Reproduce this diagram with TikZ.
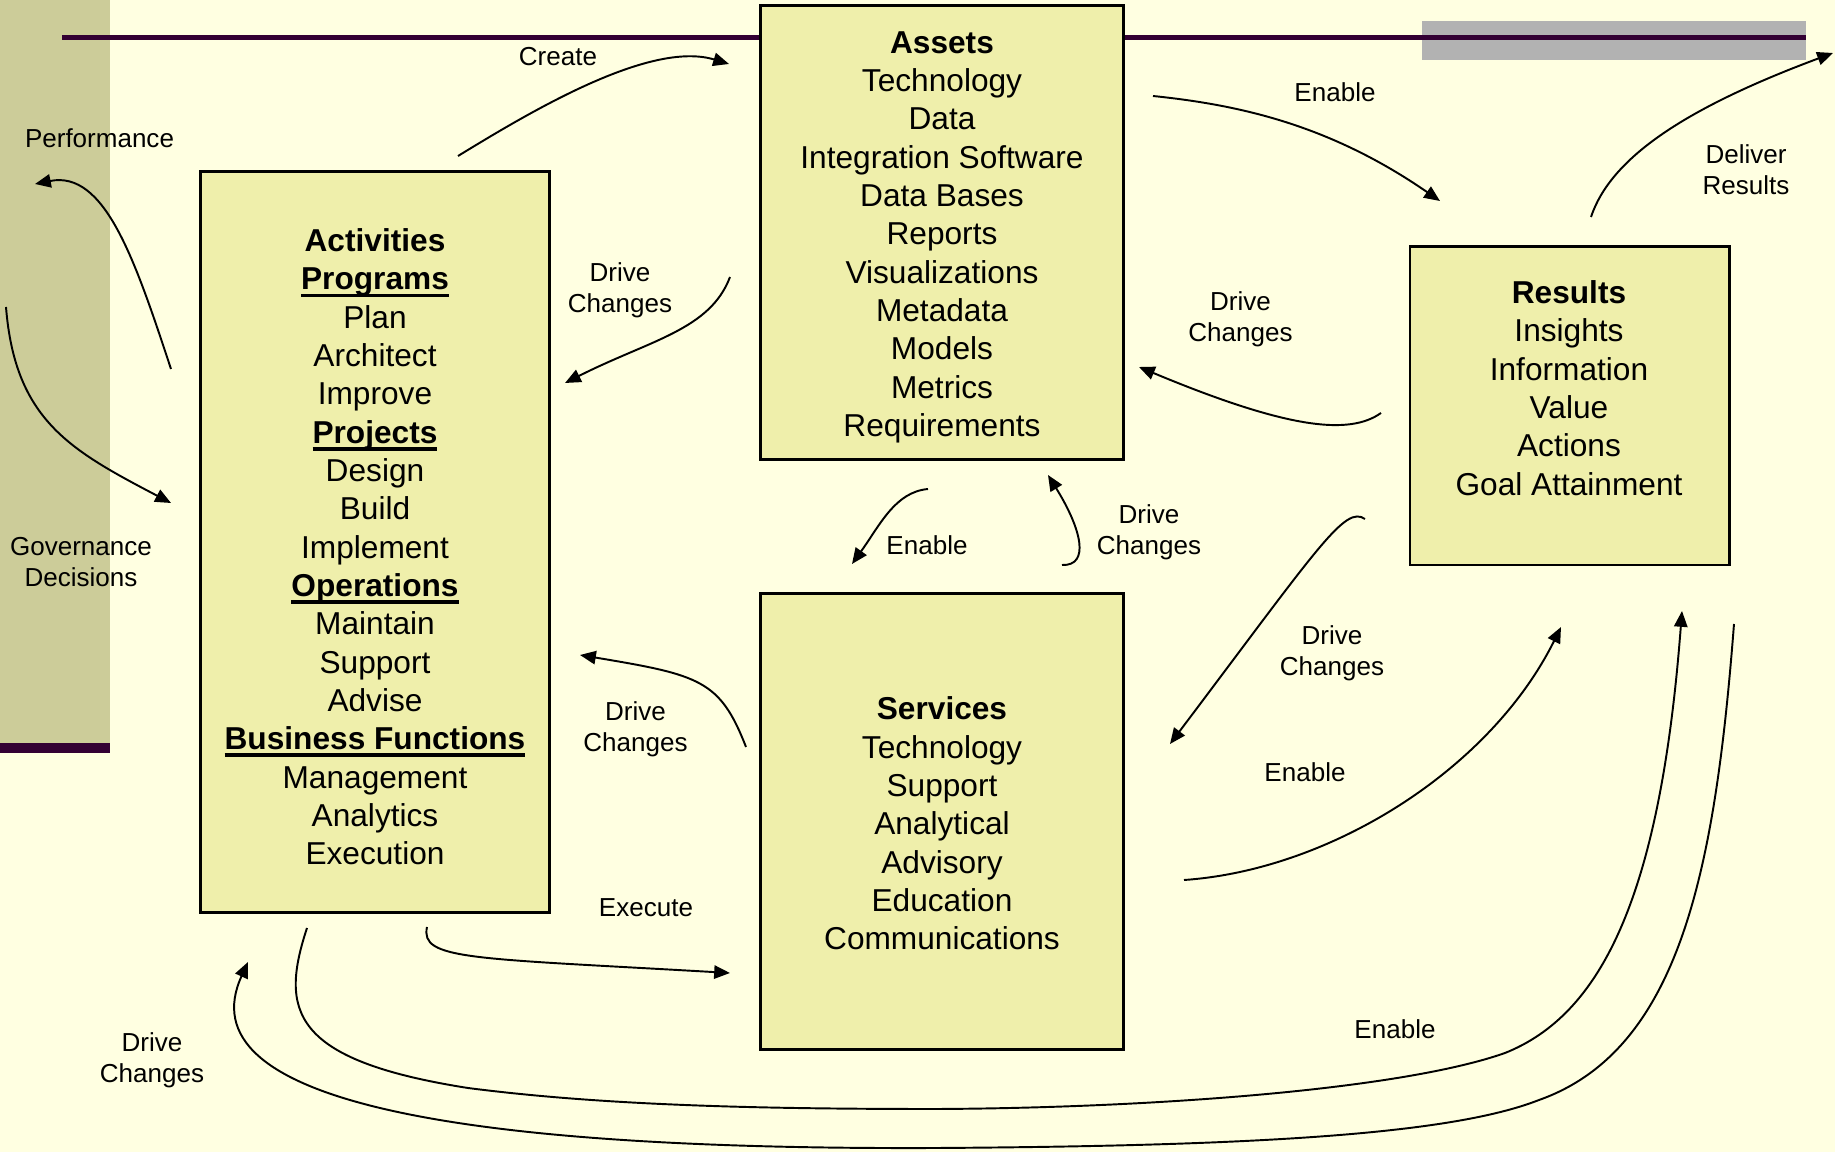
\documentclass[tikz,border=0pt]{standalone}
\usepackage{fontspec}
\setmainfont{Liberation Sans}
\usetikzlibrary{arrows.meta,positioning}
\definecolor{paper}{HTML}{FFFFE1}
\definecolor{band}{HTML}{CCCC99}
\definecolor{plum}{HTML}{330033}
\definecolor{bar}{HTML}{B2B2B2}
\definecolor{boxfill}{HTML}{EFEFAB}
% bold heading with a heavy underline
\newcommand{\headul}[1]{\setbox0\hbox{\textbf{#1}}\rlap{\rule[-2.1pt]{\wd0}{1.1pt}}\box0}

\begin{document}
\begin{tikzpicture}[x=0.01cm, y=-0.01cm]
    \tikzstyle{block}     = [rectangle, draw = black, line width = 0.8pt, fill = boxfill, inner sep = 0pt]
    \tikzstyle{blocktext} = [align = center, inner sep = 0pt, font = \fontsize{9}{10.9}\selectfont]
    \tikzstyle{tag}       = [align = center, inner sep = 0pt, font = \fontsize{7.4}{8.8}\selectfont]
    \tikzstyle{arrow}     = [line width = 0.55pt, -{Triangle[length = 4.5pt, width = 3.8pt]}]

    % page and frame
    \useasboundingbox (0,0) rectangle (1835,1152);
    \fill[paper] (0,0) rectangle (1835,1152);
    \fill[band] (0,0) rectangle (110,743);
    \fill[plum] (0,743) rectangle (110,753);
    \fill[bar] (1422,21) rectangle (1806,60);
    \draw[plum, line width = 1.4pt] (62,37.5) -- (1806,37.5);

    % the four boxes
    \node[block, minimum width = 3.62cm, minimum height = 4.53cm] (assets) at (942,232.5) {};
    \node[blocktext] (assetsText) at (942,237.2)
        {\textbf{Assets}\\Technology\\Data\\Integration Software\\Data Bases\\Reports\\Visualizations\\Metadata\\Models\\Metrics\\Requirements};
    \node[block, minimum width = 3.48cm, minimum height = 7.40cm] (activities) at (375,542) {};
    \node[blocktext] (activitiesText) at (375,547)
        {\textbf{Activities}\\\headul{Programs}\\Plan\\Architect\\Improve\\\headul{Projects}\\Design\\Build\\Implement\\\headul{Operations}\\Maintain\\Support\\Advise\\\headul{Business Functions}\\Management\\Analytics\\Execution};
    \node[block, minimum width = 3.19cm, minimum height = 3.18cm] (results) at (1569.5,406) {};
    \node[blocktext] (resultsText) at (1569,388)
        {\textbf{Results}\\Insights\\Information\\Value\\Actions\\Goal Attainment};
    \node[block, minimum width = 3.62cm, minimum height = 4.55cm] (services) at (942,821.5) {};
    \node[blocktext] (servicesText) at (942,823.5)
        {\textbf{Services}\\Technology\\Support\\Analytical\\Advisory\\Education\\Communications};

    % labels
    \node[tag] (create)   at (558,57)      {Create};
    \node[tag] (perf)     at (99.5,138)    {Performance};
    \node[tag] (gov)      at (81,562)      {Governance\\Decisions};
    \node[tag] (driveA)   at (620,290)     {Drive\\Changes};
    \node[tag] (enableA)  at (1335,92.5)   {Enable};
    \node[tag] (deliver)  at (1746,170)    {Deliver\\Results};
    \node[tag] (driveB)   at (1240.5,319.5){Drive\\Changes};
    \node[tag] (enableB)  at (927,545)     {Enable};
    \node[tag] (driveC)   at (1149,532.5)  {Drive\\Changes};
    \node[tag] (driveD)   at (1332,653)    {Drive\\Changes};
    \node[tag] (driveE)   at (635.5,729)   {Drive\\Changes};
    \node[tag] (enableC)  at (1305,772)    {Enable};
    \node[tag] (execute)  at (646,908)     {Execute};
    \node[tag] (enableD)  at (1395,1029)   {Enable};
    \node[tag] (driveF)   at (152,1060)    {Drive\\Changes};

    % arrow ends
    \coordinate (createS)  at (458,156);   \coordinate (createE)  at (729,64);
    \coordinate (perfS)    at (171,369);   \coordinate (perfE)    at (35,184);
    \coordinate (govS)     at (6,307);     \coordinate (govE)     at (171,503);
    \coordinate (driveAS)  at (730,277);   \coordinate (driveAE)  at (565,383);
    \coordinate (enableAS) at (1153,96);   \coordinate (enableAE) at (1440,201);
    \coordinate (deliverS) at (1591,217);  \coordinate (deliverE) at (1833,53);
    \coordinate (driveBS)  at (1381,413);  \coordinate (driveBE)  at (1139,367);
    \coordinate (enableBS) at (928,489);   \coordinate (enableBE) at (852,564);
    \coordinate (driveCS)  at (1062,565);  \coordinate (driveCE)  at (1048,475);
    \coordinate (driveDS)  at (1365,519);  \coordinate (driveDE)  at (1170,744);
    \coordinate (driveES)  at (746,747);   \coordinate (driveEE)  at (580,655);
    \coordinate (enableCS) at (1184,880);  \coordinate (enableCE) at (1561,627);
    \coordinate (executeS) at (427,927);   \coordinate (executeE) at (730,973);
    \coordinate (enableDS) at (307,928);   \coordinate (enableDE) at (1682,611);
    \coordinate (driveFS)  at (1734,624);  \coordinate (driveFE)  at (248,962);

    \draw[arrow] (createS)  .. controls (530,112) and (650,40) .. (createE);
    \draw[arrow] (perfS)    .. controls (135,260) and (105,170) .. (perfE);
    \draw[arrow] (govS)     .. controls (15,420) and (70,450) .. (govE);
    \draw[arrow] (driveAS)  .. controls (710,330) and (650,340) .. (driveAE);
    \draw[arrow] (enableAS) .. controls (1240,105) and (1330,125) .. (enableAE);
    \draw[arrow] (deliverS) .. controls (1610,160) and (1680,110) .. (deliverE);
    \draw[arrow] (driveBS)  .. controls (1350,435) and (1290,430) .. (driveBE);
    \draw[arrow] (enableBS) .. controls (895,492) and (880,525) .. (enableBE);
    \draw[arrow] (driveCS)  .. controls (1090,566) and (1082,530) .. (driveCE);
    \draw[arrow] (driveDS)  .. controls (1345,505) and (1320,545) .. (driveDE);
    \draw[arrow] (driveES)  .. controls (720,680) and (700,675) .. (driveEE);
    \draw[arrow] (enableCS) .. controls (1330,870) and (1490,770) .. (enableCE);
    \draw[arrow] (executeS) .. controls (420,960) and (470,958) .. (executeE);
    \draw[arrow] (enableDS) .. controls (280,1010) and (290,1060) .. (468,1088)
                            .. controls (600,1105) and (750,1109) .. (936,1109)
                            .. controls (1150,1108) and (1400,1090) .. (1505,1053)
                            .. controls (1600,1015) and (1660,900) .. (enableDE);
    \draw[arrow] (driveFS)  .. controls (1715,870) and (1680,1050) .. (1539,1100)
                            .. controls (1450,1135) and (1250,1146) .. (936,1148)
                            .. controls (450,1150) and (185,1100) .. (driveFE);
\end{tikzpicture}
\end{document}
